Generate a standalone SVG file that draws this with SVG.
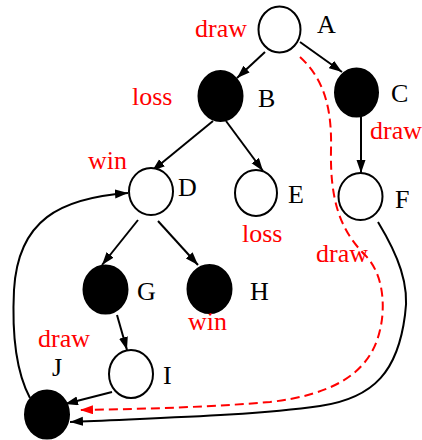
<svg xmlns="http://www.w3.org/2000/svg" width="422" height="440" viewBox="0 0 422 440">
<style>
.n{stroke:#000;stroke-width:2}
.w{fill:#fff}
.b{fill:#000}
.lb{font-family:"Liberation Serif","Times New Roman",serif;font-size:26px;fill:#000}
.r{font-family:"Liberation Serif","Times New Roman",serif;font-size:26px;fill:#ff0000}
.e{fill:none;stroke:#000;stroke-width:2}
.d{fill:none;stroke:#ff0000;stroke-width:2;stroke-dasharray:9,5}
</style>
<defs>
<marker id="ah" markerUnits="userSpaceOnUse" markerWidth="14" markerHeight="10" refX="13" refY="4.5" orient="auto">
<path d="M0,0 L13,4.5 L0,9 z" fill="#000"/>
</marker>
<marker id="ahr" markerUnits="userSpaceOnUse" markerWidth="14" markerHeight="10" refX="13" refY="4.5" orient="auto">
<path d="M0,0 L13,4.5 L0,9 z" fill="#ff0000"/>
</marker>
</defs>
<rect width="422" height="440" fill="#fff"/>
<g id="connectors">
<line class="e" x1="265" y1="52" x2="237" y2="78" marker-end="url(#ah)"/>
<line class="e" x1="300" y1="42" x2="342" y2="72" marker-end="url(#ah)"/>
<line class="e" x1="361" y1="117" x2="361" y2="173" marker-end="url(#ah)"/>
<line class="e" x1="213" y1="121" x2="152" y2="171" marker-end="url(#ah)"/>
<line class="e" x1="226" y1="121" x2="263" y2="171" marker-end="url(#ah)"/>
<line class="e" x1="138" y1="220" x2="102" y2="265" marker-end="url(#ah)"/>
<line class="e" x1="158" y1="221" x2="198" y2="265" marker-end="url(#ah)"/>
<line class="e" x1="117" y1="315" x2="127" y2="350" marker-end="url(#ah)"/>
<line class="e" x1="112" y1="392" x2="65" y2="404" marker-end="url(#ah)"/>
<path class="e" d="M30,398 C15,370 12,330 14,290 C18,220 60,198 128,193" marker-end="url(#ah)"/>
<path class="e" d="M378,222 C398,255 410,285 405,315 C398,370 375,398 320,406 C250,416 150,418 70,422" marker-end="url(#ah)"/>
<path class="d" d="M300,57 C325,80 332,110 331,150 C330,200 340,230 365,255 C385,275 385,310 380,330 C370,375 330,395 270,402 C200,408 130,409 80,410" marker-end="url(#ahr)"/>
</g>
<g id="A"><ellipse class="n w" cx="279.5" cy="29.5" rx="21" ry="23"/><text class="lb" x="317" y="33">A</text><text class="r" x="195" y="37">draw</text></g>
<g id="B"><ellipse class="n b" cx="220.5" cy="96" rx="22" ry="25"/><text class="lb" x="258" y="107">B</text><text class="r" x="132" y="105">loss</text></g>
<g id="C"><ellipse class="n b" cx="356.5" cy="92.5" rx="21.5" ry="24"/><text class="lb" x="391" y="102">C</text><text class="r" x="370" y="139">draw</text></g>
<g id="D"><ellipse class="n w" cx="151" cy="191.5" rx="22" ry="23.5"/><text class="lb" x="178" y="196">D</text><text class="r" x="88" y="169">win</text></g>
<g id="E"><ellipse class="n w" cx="256" cy="193" rx="21" ry="23"/><text class="lb" x="288" y="203">E</text><text class="r" x="242" y="242">loss</text></g>
<g id="F"><ellipse class="n w" cx="360.5" cy="196.5" rx="22" ry="23.5"/><text class="lb" x="395" y="208">F</text><text class="r" x="316" y="262">draw</text></g>
<g id="G"><ellipse class="n b" cx="105.5" cy="289.5" rx="22" ry="24"/><text class="lb" x="137" y="300">G</text></g>
<g id="H"><ellipse class="n b" cx="209.5" cy="289" rx="22" ry="24"/><text class="lb" x="250" y="300">H</text><text class="r" x="188" y="330">win</text></g>
<g id="I"><ellipse class="n w" cx="131" cy="374" rx="22" ry="24"/><text class="lb" x="163" y="384">I</text><text class="r" x="38" y="347">draw</text></g>
<g id="J"><ellipse class="n b" cx="47" cy="414.5" rx="22" ry="24"/><text class="lb" x="52" y="376">J</text></g>
</svg>
